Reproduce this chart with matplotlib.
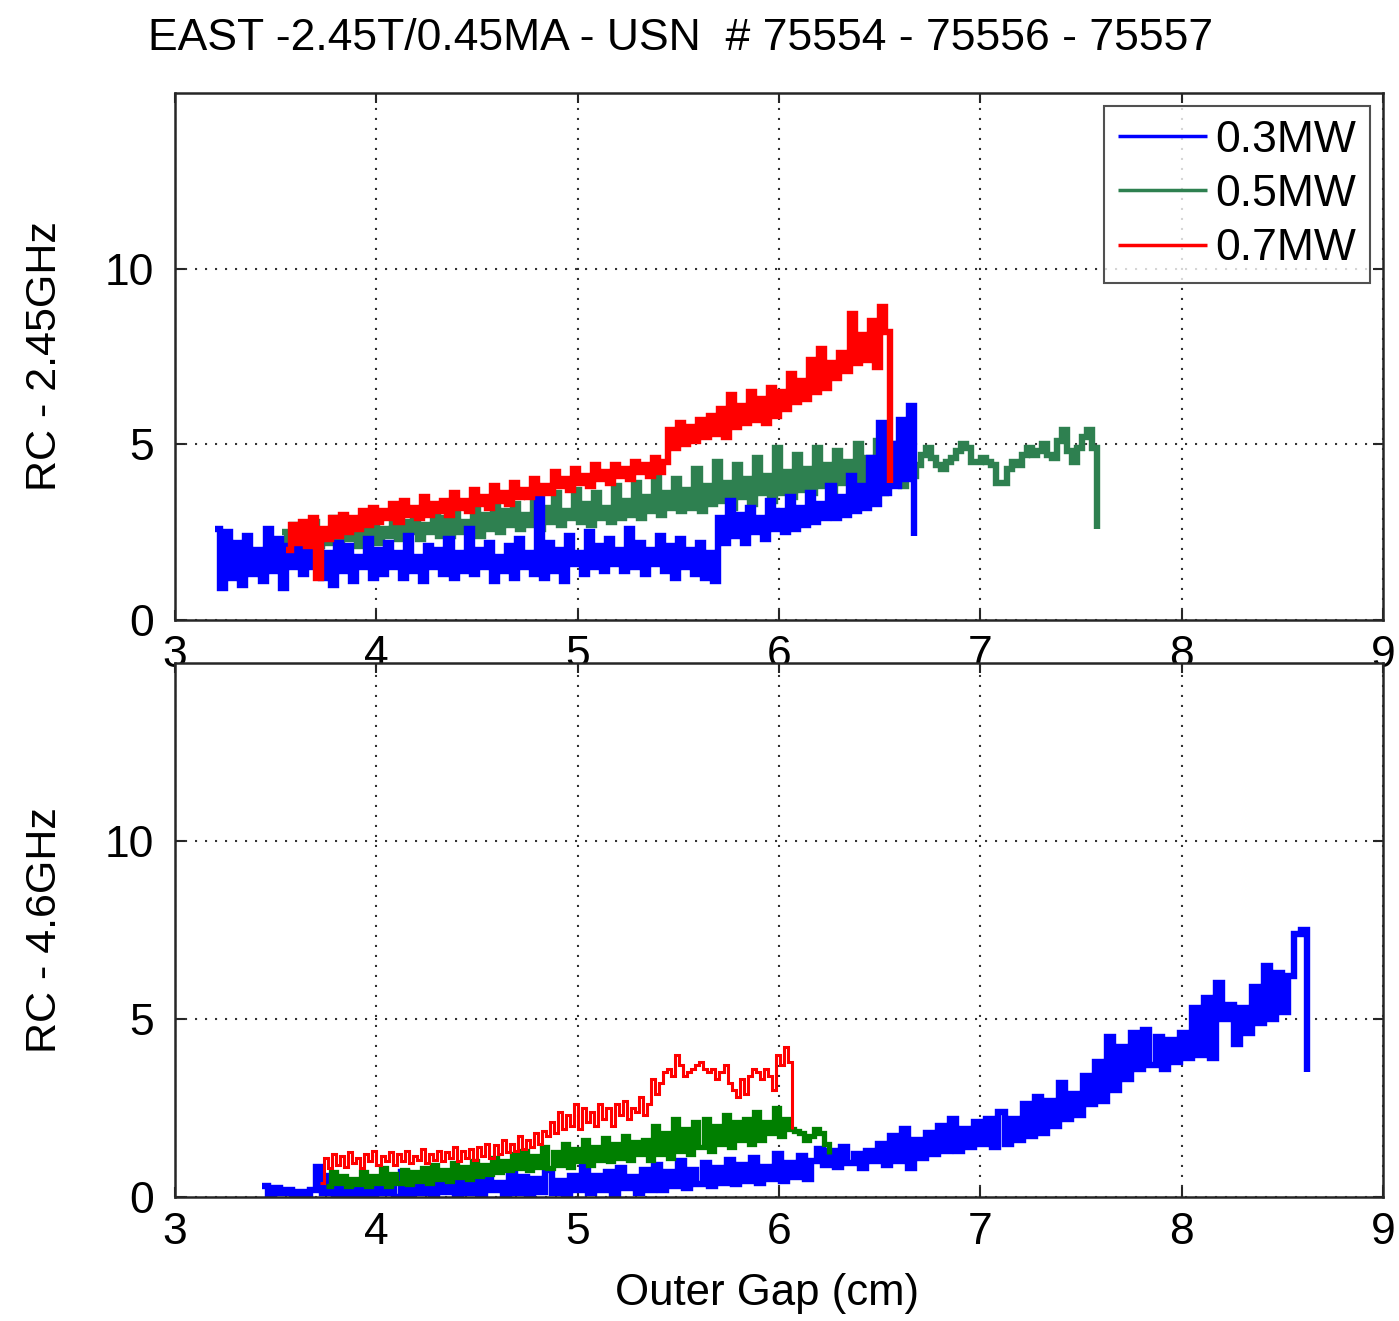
import numpy as np
import matplotlib
matplotlib.use("Agg")
from matplotlib import pyplot as plt

plt.rcParams['font.family'] = ['Liberation Sans', 'DejaVu Sans']

title = "EAST -2.45T/0.45MA - USN  # 75554 - 75556 - 75557"
labels = ["0.3MW", "0.5MW", "0.7MW"]

# ---- RC at 2.45 GHz vs outer gap ----
gap_03_a = (3.20, 6.67)
rc_03_a = [2.6, 0.9, 2.5, 1.2, 2.2, 1.0, 2.4, 1.3, 2.0, 1.1, 2.6, 1.4, 2.3, 0.9, 2.1, 1.5,
           2.4, 1.3, 2.0, 1.5, 2.5, 1.2, 1.9, 1.0, 2.2, 1.4, 2.1, 1.1, 1.8, 1.5, 2.3, 1.2,
           2.0, 1.3, 2.2, 1.5, 1.9, 1.2, 2.4, 1.4, 1.8, 1.1, 2.1, 1.5, 2.0, 1.3, 2.3, 1.2,
           1.9, 1.4, 2.6, 1.3, 2.0, 1.5, 2.2, 1.1, 1.8, 1.4, 2.1, 1.2, 2.3, 1.5, 1.9, 1.3,
           3.5, 1.2, 2.2, 1.4, 2.0, 1.1, 2.4, 1.6, 1.9, 1.3, 2.5, 1.5, 2.1, 1.4, 2.3, 1.6,
           2.0, 1.4, 2.6, 1.5, 2.2, 1.3, 2.0, 1.6, 2.4, 1.4, 2.1, 1.2, 2.3, 1.5, 2.0, 1.3,
           2.2, 1.2, 1.9, 1.1, 2.9, 2.2, 3.4, 2.4, 3.0, 2.2, 3.2, 2.5, 2.9, 2.3, 3.4, 2.6,
           3.1, 2.5, 3.5, 2.6, 3.2, 2.7, 3.6, 2.8, 3.3, 2.9, 3.8, 2.9, 3.5, 3.0, 4.1, 3.1,
           3.8, 3.2, 4.6, 3.3, 5.6, 3.6, 5.0, 3.8, 5.7, 4.0, 6.1, 2.4]

gap_05_a = (3.53, 7.58)
rc_05_a = [2.5, 1.8, 2.7, 2.0, 2.4, 1.9, 2.8, 2.1, 2.5, 2.2, 2.9, 2.0, 2.6, 2.3, 2.8, 2.1,
           2.7, 2.3, 2.9, 2.2, 2.6, 2.4, 3.0, 2.3, 2.8, 2.5, 3.1, 2.3, 2.7, 2.5, 3.0, 2.4,
           2.9, 2.4, 3.2, 2.5, 2.8, 2.6, 3.3, 2.4, 3.0, 2.6, 3.4, 2.5, 3.1, 2.7, 3.3, 2.6,
           3.0, 2.7, 3.5, 2.6, 3.2, 2.8, 3.6, 2.7, 3.1, 2.9, 3.7, 2.8, 3.3, 2.7, 3.6, 2.9,
           3.2, 2.8, 3.8, 2.9, 3.4, 3.0, 3.9, 2.9, 3.5, 3.1, 4.2, 3.0, 3.6, 3.2, 4.0, 3.1,
           3.7, 3.2, 4.3, 3.1, 3.8, 3.3, 4.5, 3.4, 3.9, 3.2, 4.4, 3.5, 4.0, 3.3, 4.6, 3.6,
           4.1, 3.4, 4.9, 3.6, 4.2, 3.5, 4.7, 3.7, 4.3, 3.6, 4.9, 3.8, 4.4, 3.5, 4.8, 3.9,
           4.5, 3.8, 5.0, 3.7, 4.6, 3.9, 5.1, 3.6, 4.7, 3.9, 5.0, 3.8, 4.6, 4.1, 4.4,
           4.7, 4.9, 4.6, 4.4, 4.3, 4.5, 4.6, 4.8, 5.0, 4.9, 4.5, 4.5, 4.6, 4.5, 4.4, 3.9,
           3.9, 4.3, 4.5, 4.4, 4.7, 4.9, 4.7, 4.8, 5.0, 4.7, 4.6, 5.1, 5.4, 4.8, 4.5, 4.9,
           5.2, 5.4, 4.9, 2.6]

gap_07_a = (3.55, 6.55)
rc_07_a = [2.0, 2.7, 2.2, 2.8, 2.1, 2.9, 1.2, 2.6, 2.3, 2.9, 2.4, 3.0, 2.5, 2.9, 2.6, 3.1,
           2.7, 3.2, 2.8, 3.1, 2.9, 3.3, 2.8, 3.4, 3.0, 3.2, 2.9, 3.5, 3.0, 3.3, 3.1, 3.4,
           3.0, 3.6, 3.2, 3.4, 3.1, 3.7, 3.3, 3.5, 3.2, 3.8, 3.4, 3.6, 3.3, 3.9, 3.5, 3.7,
           3.5, 4.0, 3.6, 3.8, 3.6, 4.2, 3.8, 4.0, 3.7, 4.3, 3.9, 4.1, 3.8, 4.4, 4.0, 4.2,
           3.9, 4.4, 4.1, 4.3, 4.0, 4.5, 4.2, 4.4, 4.1, 4.6, 4.2, 4.5, 5.4, 4.9, 5.6, 5.0,
           5.5, 5.1, 5.7, 5.2, 5.8, 5.3, 6.0, 5.2, 6.4, 5.5, 6.1, 5.6, 6.5, 5.7, 6.3, 5.6,
           6.6, 5.8, 6.5, 6.0, 7.0, 6.2, 6.8, 6.3, 7.4, 6.5, 7.7, 6.6, 7.3, 6.9, 7.6, 7.1,
           8.7, 7.3, 8.1, 7.4, 8.5, 7.2, 8.9, 8.2, 3.9]

# ---- RC at 4.6 GHz vs outer gap ----
gap_03_b = (3.43, 8.62)
rc_03_b = [0.3, 0.05, 0.25, 0.1, 0.2, 0.05, 0.15, 0.0, 0.2,
           0.85, 0.1, 0.6, 0.05,
           0.4, 0.0, 0.3, 0.05, 0.5, 0.0, 0.25, 0.1, 0.35, 0.0,
           0.7, 0.0, 0.6, 0.1, 0.5, 0.0, 0.7, 0.15, 0.45, 0.05, 0.6, 0.1, 0.5, 0.0, 0.65,
           0.2, 0.4, 0.05, 0.7, 0.1, 0.55, 0.0, 0.5, 0.15, 0.75, 0.1, 0.45, 0.05, 0.6, 0.2,
           0.85, 0.1, 0.6, 0.2, 0.7, 0.05, 0.8, 0.25, 0.55, 0.1, 0.75, 0.2,
           0.9, 0.2, 0.7, 0.3, 1.0, 0.25, 0.75, 0.35, 0.95, 0.3, 0.8, 0.4, 1.05, 0.35,
           0.9, 0.45, 1.1, 0.4, 0.85, 0.5, 1.2, 0.45, 0.95, 0.55, 1.15, 0.5, 1.0,
           1.35, 0.9, 1.3, 0.85, 1.4, 0.95, 1.2, 0.8, 1.3,
           1.0, 1.5, 0.9, 1.7, 1.0, 1.9, 0.8, 1.6, 1.1, 1.8, 1.2, 2.0, 1.3,
           2.2, 1.3, 1.9, 1.4, 2.1, 1.5, 2.2, 1.4, 2.4, 1.5, 2.2, 1.6, 2.6, 1.7,
           2.8, 1.8, 2.7, 2.0, 3.2, 2.2, 2.9, 2.3, 3.4, 2.6,
           3.8, 2.7, 4.5, 3.0, 4.2, 3.3, 4.6, 3.6, 4.7,
           3.7, 4.5, 3.6, 4.4, 3.8, 4.6, 3.9, 5.3, 4.0,
           5.6, 3.9, 6.0, 5.0, 5.4, 4.3, 5.3, 4.6, 5.9,
           4.9, 6.5, 5.0, 6.3, 5.2, 6.2, 7.4, 7.5, 3.5]

gap_05_b = (3.75, 6.25)
rc_05_b = [0.3, 0.7, 0.4, 0.6, 0.3, 0.5, 0.35, 0.7, 0.3, 0.6, 0.4, 0.8, 0.3, 0.65, 0.4, 0.75, 0.35,
           0.7, 0.45, 0.8, 0.4, 0.9, 0.5, 0.75, 0.45, 0.95, 0.55, 0.85, 0.5, 1.0, 0.6, 0.9, 0.65, 1.1,
           0.7, 1.0, 0.75, 1.2, 0.8, 1.3, 0.75, 1.15, 0.85, 1.4, 0.8, 1.25, 0.9, 1.5, 0.85, 1.35, 1.0,
           1.6, 0.9, 1.4, 1.05, 1.65, 1.0, 1.5, 1.1, 1.7, 1.05, 1.55, 1.2, 1.6, 1.05, 2.0, 1.2, 1.8,
           1.1, 2.2, 1.3, 1.9, 1.2, 2.1, 1.4, 2.2, 1.3, 2.0, 1.5, 2.3, 1.4, 2.1, 1.6, 2.2, 1.5,
           2.4, 1.6, 2.1, 1.8, 2.5, 1.7, 2.2, 1.9, 1.85, 1.8, 1.6, 1.7, 1.9, 1.8, 1.5, 1.2]

gap_07_b = (3.72, 6.065)
rc_07_b = [0.4, 1.1, 0.8, 1.2, 0.9, 1.15, 0.85, 1.25, 0.95, 1.1, 0.8, 1.2, 1.0, 1.3, 0.9, 1.15, 1.0, 1.25,
           0.9, 1.2, 1.0, 1.3, 0.95, 1.15, 1.05, 1.35, 0.95, 1.2, 1.05, 1.3, 1.0, 1.25, 1.1, 1.4, 1.0, 1.3,
           1.1, 1.35, 1.05, 1.4, 1.15, 1.5, 1.1, 1.45, 1.2, 1.6, 1.25, 1.5, 1.3, 1.7, 1.35, 1.6, 1.4, 1.8,
           1.5, 1.85, 1.7, 2.1, 1.8, 2.4, 1.9, 2.3, 2.0, 2.6, 1.9, 2.5, 2.1, 2.4, 2.0, 2.6, 2.2, 2.5,
           2.0, 2.6, 2.3, 2.7, 2.2, 2.5, 2.4, 2.8, 2.3, 2.6, 3.3, 2.9, 3.2, 3.5, 3.6, 3.4, 4.0, 3.7,
           3.4, 3.5, 3.6, 3.7, 3.8, 3.6, 3.5, 3.6, 3.3, 3.5, 3.7, 3.2, 3.0, 2.8, 3.3, 2.9, 3.4, 3.6,
           3.5, 3.3, 3.6, 3.4, 3.0, 4.0, 3.7, 4.2, 3.8, 1.9]

blue = '#0000ff'
green_a = '#2e8050'
green_b = '#007f00'
red = '#ff0000'
FS = 32


def gap_axis(span, vals):
    # shot samples are evenly spaced in outer gap between the start and end values
    return np.linspace(span[0], span[1], len(vals))


def style(ax):
    ax.set_xlim(3, 9)
    ax.set_ylim(0, 15)
    ax.set_xticks([3, 4, 5, 6, 7, 8, 9])
    ax.set_yticks([0, 5, 10])
    ax.grid(True, linestyle=(0, (1, 3.8)), linewidth=1.5, color='#333333')
    ax.tick_params(direction='in', length=7, width=1.5, top=True, right=True,
                   labelsize=FS, color='#262626')
    ax.tick_params(axis='x', pad=11)
    ax.tick_params(axis='y', pad=15)
    for s in ax.spines.values():
        s.set_linewidth(1.8)
        s.set_color('#262626')


fig = plt.figure(figsize=(13.99, 13.21), dpi=100)
ax1 = fig.add_axes([0.1251, 0.5307, 0.8635, 0.3989])
ax2 = fig.add_axes([0.1251, 0.0939, 0.8635, 0.4042])

lw = 4.6
kw = dict(drawstyle='steps-post', solid_joinstyle='miter', solid_capstyle='butt')
ax1.plot(gap_axis(gap_03_a, rc_03_a), rc_03_a, color=blue, lw=lw, zorder=3, label=labels[0], **kw)
ax1.plot(gap_axis(gap_05_a, rc_05_a), rc_05_a, color=green_a, lw=lw, zorder=2, label=labels[1], **kw)
ax1.plot(gap_axis(gap_07_a, rc_07_a), rc_07_a, color=red, lw=lw, zorder=4, label=labels[2], **kw)

ax2.plot(gap_axis(gap_03_b, rc_03_b), rc_03_b, color=blue, lw=lw, zorder=2, **kw)
ax2.plot(gap_axis(gap_05_b, rc_05_b), rc_05_b, color=green_b, lw=3.8, zorder=3, **kw)
ax2.plot(gap_axis(gap_07_b, rc_07_b), rc_07_b, color=red, lw=2.2, zorder=4, **kw)

for ax in (ax1, ax2):
    style(ax)

ax1.set_ylabel("RC - 2.45GHz", fontsize=31)
ax2.set_ylabel("RC - 4.6GHz", fontsize=31)
ax1.yaxis.set_label_coords(-0.091, 0.5)
ax2.yaxis.set_label_coords(-0.091, 0.5)
ax2.set_xlabel("Outer Gap (cm)", fontsize=31.5)
ax2.xaxis.set_label_coords(0.49, -0.142)

leg = ax1.legend(loc='upper right', fontsize=FS, handlelength=2.0, handletextpad=0.2,
                 labelspacing=0.3, borderpad=0.3, borderaxespad=0.3, fancybox=False)
leg.get_frame().set_edgecolor('#262626')
leg.get_frame().set_linewidth(1.5)
for h in leg.get_lines():
    h.set_linewidth(2.5)

fig.text(681 / 1399, 1 - 38 / 1321, title, fontsize=32, ha='center', va='center')

fig.savefig('out.png', dpi=100)
